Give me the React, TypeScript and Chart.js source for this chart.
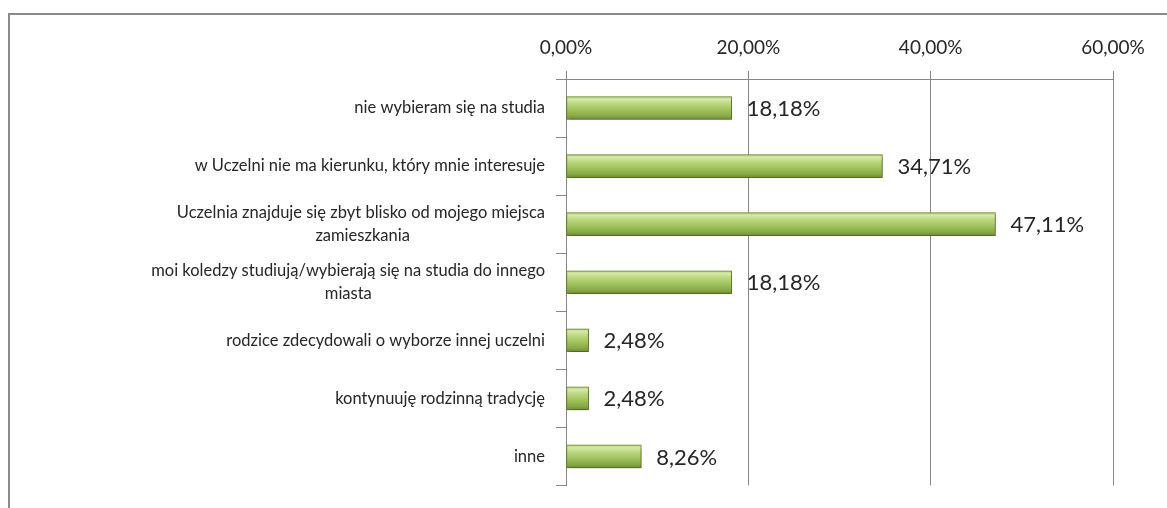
import React, { useEffect, useRef } from "react";
import { Chart, registerables } from "chart.js";

Chart.register(...registerables);

const categories: string[][] = [
  ["nie wybieram się na studia"],
  ["w Uczelni nie ma kierunku, który mnie interesuje"],
  ["Uczelnia znajduje się zbyt blisko od mojego miejsca", "zamieszkania"],
  ["moi koledzy studiują/wybierają się na studia do innego", "miasta"],
  ["rodzice zdecydowali o wyborze innej uczelni"],
  ["kontynuuję rodzinną tradycję"],
  ["inne"],
];
const values = [0.1818, 0.3471, 0.4711, 0.1818, 0.0248, 0.0248, 0.0826];
const xMin = 0;
const xMax = 0.6;
const xStep = 0.2;

const FONT = "Lato";
const CAT_SIZE = 16.5;
const TICK_SIZE = 19;
const LABEL_SIZE = 22;
const GRID = "#868686";
const TEXT = "#262626";
const BAR_H = 23;
const PAD = "\u00a0";

const fmt = (v: number) => (v * 100).toFixed(2).replace(".", ",") + "%";

function centerLines(ctx: CanvasRenderingContext2D, lines: string[]): string | string[] {
  if (lines.length < 2) return lines[0];
  ctx.save();
  ctx.font = `${CAT_SIZE}px ${FONT}`;
  const w = lines.map((l) => ctx.measureText(l).width);
  const sp = ctx.measureText(PAD).width || 4;
  ctx.restore();
  const max = Math.max(...w);
  return lines.map((l, i) => l + PAD.repeat(Math.max(0, Math.round((max - w[i]) / 2 / sp))));
}

const valueLabels = {
  id: "valueLabels",
  afterDatasetsDraw(chart: any) {
    const { ctx } = chart;
    const meta = chart.getDatasetMeta(0);
    ctx.save();
    ctx.font = `${LABEL_SIZE}px ${FONT}`;
    ctx.fillStyle = TEXT;
    ctx.textAlign = "left";
    ctx.textBaseline = "middle";
    meta.data.forEach((bar: any, i: number) => {
      ctx.fillText(fmt(values[i]), bar.x + 15, bar.y + 1);
    });
    ctx.restore();
  },
};

const barShadow = {
  id: "barShadow",
  beforeDatasetsDraw(chart: any) {
    const { ctx } = chart;
    ctx.save();
    ctx.shadowColor = "rgba(0,0,0,0.35)";
    ctx.shadowBlur = 4;
    ctx.shadowOffsetX = 1;
    ctx.shadowOffsetY = 2;
  },
  afterDatasetsDraw(chart: any) {
    chart.ctx.restore();
  },
};

function barFill(c: any) {
  const ch = c.chart;
  const y = ch.scales?.y;
  if (!y || c.dataIndex === undefined) return "#9bbb59";
  const yc = y.getPixelForValue(c.dataIndex);
  if (!Number.isFinite(yc)) return "#9bbb59";
  const g = ch.ctx.createLinearGradient(0, yc - BAR_H / 2, 0, yc + BAR_H / 2);
  g.addColorStop(0, "#b3cf78");
  g.addColorStop(0.12, "#d6e9a6");
  g.addColorStop(0.3, "#bcd883");
  g.addColorStop(0.6, "#9fc15a");
  g.addColorStop(0.85, "#86a846");
  g.addColorStop(1, "#6c8b33");
  return g;
}

export default function App() {
  const ref = useRef<HTMLCanvasElement | null>(null);

  useEffect(() => {
    if (!ref.current) return;
    const chart = new Chart(ref.current, {
      type: "bar",
      data: {
        labels: categories,
        datasets: [
          {
            data: values,
            barThickness: BAR_H,
            borderWidth: 1,
            borderColor: "#6f8f35",
            borderSkipped: false,
            backgroundColor: barFill,
          },
        ],
      },
      options: {
        indexAxis: "y",
        responsive: false,
        animation: false,
        layout: { padding: { left: 0, right: 54, top: 0, bottom: 21 } },
        plugins: {
          legend: { display: false },
          tooltip: { enabled: false },
        },
        scales: {
          x: {
            position: "top",
            min: xMin,
            max: xMax,
            afterFit: (s: any) => {
              s.height = 79;
            },
            afterBuildTicks: (s: any) => {
              const t = [];
              for (let v = xMin; v <= xMax + 1e-9; v += xStep) t.push({ value: +v.toFixed(4) });
              s.ticks = t;
            },
            ticks: {
              callback: (v: any) => fmt(Number(v)),
              font: { family: FONT, size: TICK_SIZE },
              color: TEXT,
              padding: 12,
              maxRotation: 0,
            },
            grid: { color: GRID, tickLength: 8, lineWidth: 1 },
            border: { display: true, color: GRID },
          },
          y: {
            afterFit: (s: any) => {
              s.width = 566;
            },
            ticks: {
              callback: function (this: any, _v: any, i: number) {
                return centerLines(this.ctx, categories[i]);
              },
              font: { family: FONT, size: CAT_SIZE, lineHeight: 1.4 },
              color: TEXT,
              padding: 11,
            },
            grid: { color: GRID, drawOnChartArea: false, tickLength: 10, offset: true },
            border: { display: true, color: GRID },
          },
        },
      },
      plugins: [barShadow, valueLabels],
    } as any);
    chart.update();
    return () => chart.destroy();
  }, []);

  return (
    <div style={{ position: "fixed", left: 0, top: 0, width: 1167, height: 508, background: "#fff", overflow: "hidden" }}>
      <div
        style={{
          position: "absolute",
          left: 8,
          top: 13,
          width: 1200,
          height: 600,
          borderTop: "2px solid #8a8a8a",
          borderLeft: "2px solid #8a8a8a",
        }}
      />
      <canvas ref={ref} width={1167} height={508} style={{ position: "absolute", left: 0, top: 0 }} />
    </div>
  );
}
